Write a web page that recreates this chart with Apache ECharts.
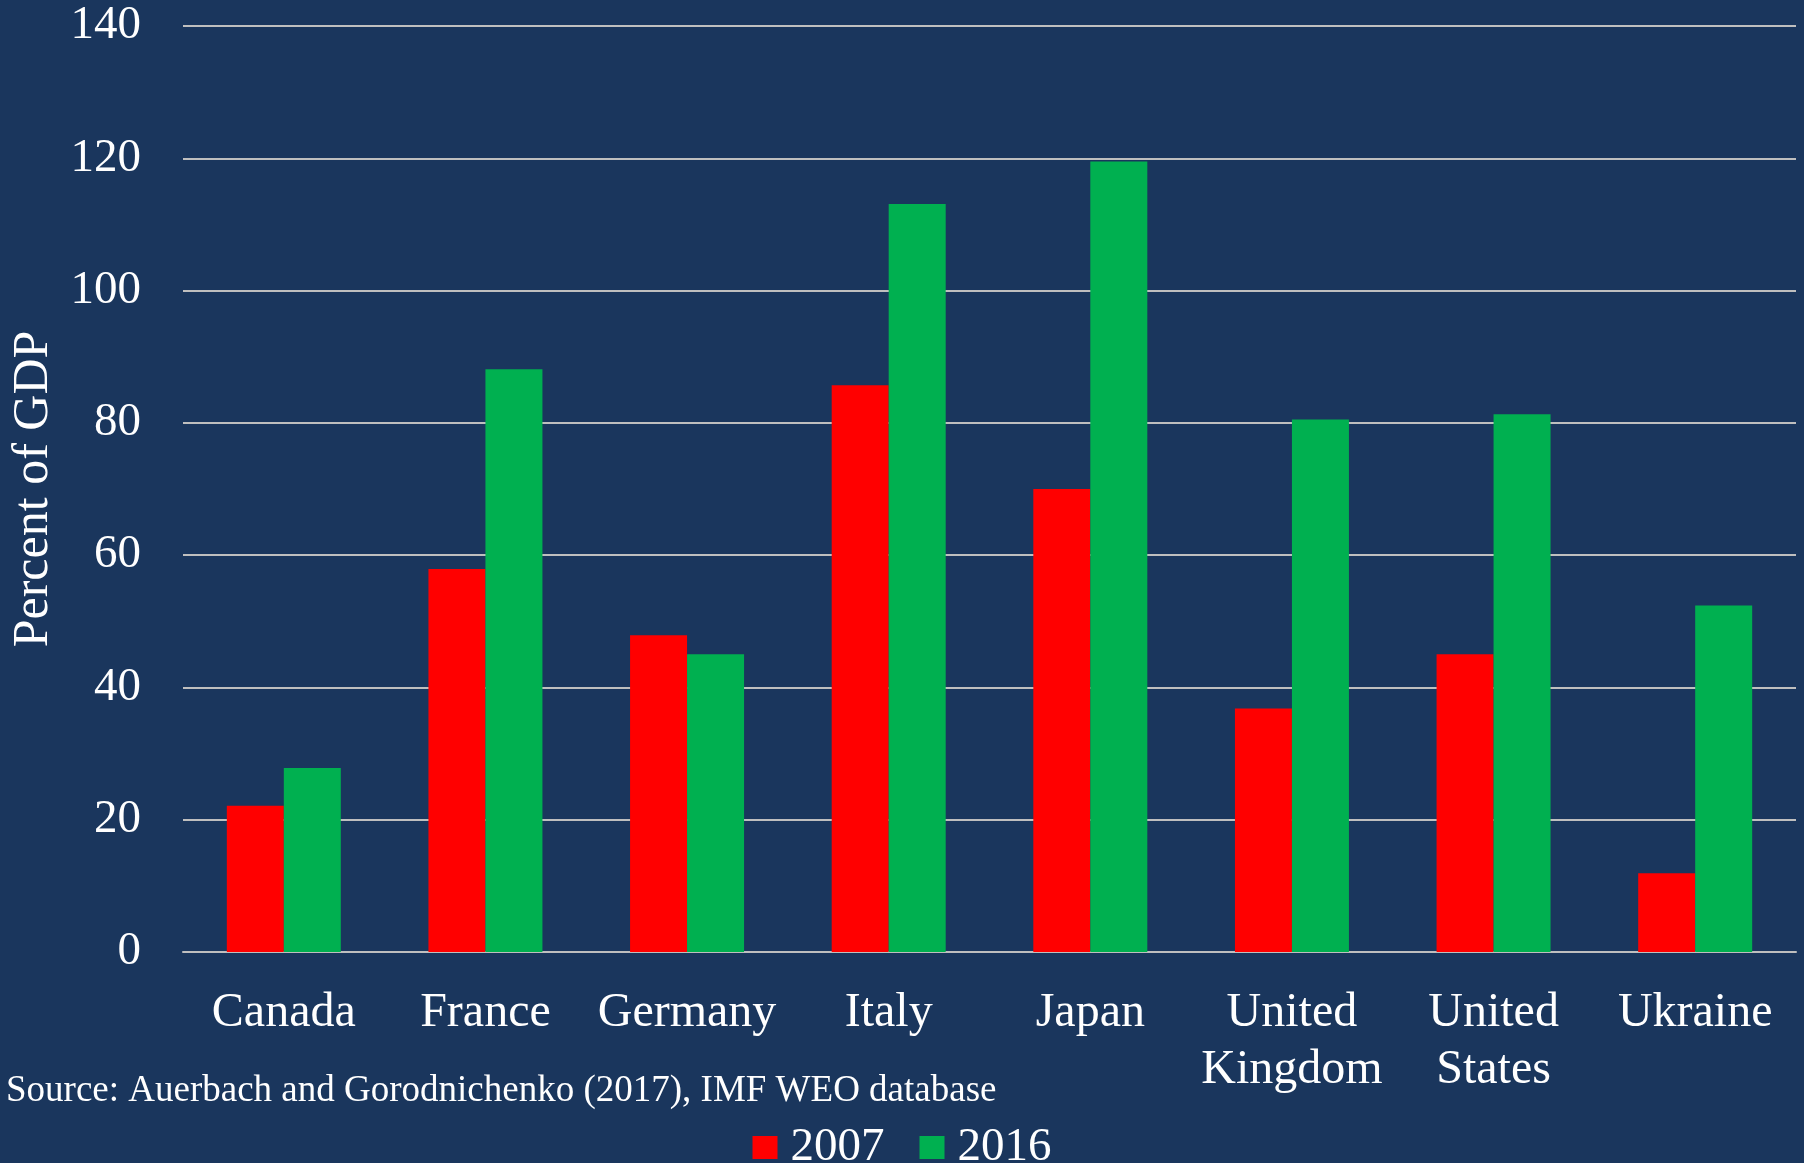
<!DOCTYPE html>
<html>
<head>
<meta charset="utf-8">
<script src="https://cdn.jsdelivr.net/npm/echarts@6/dist/echarts.min.js"></script>
<style>
  html, body { margin: 0; padding: 0; background: #1A365D; }
  #chart { width: 1804px; height: 1163px; }
</style>
</head>
<body>
<div id="chart"></div>
<script>
// categories and values (percent of GDP)
const countries = ['Canada', 'France', 'Germany', 'Italy', 'Japan', 'United\nKingdom', 'United\nStates', 'Ukraine'];
const debt2007 = [22.1, 57.9, 47.9, 85.7, 70.0, 36.8, 45.0, 11.9];
const debt2016 = [27.8, 88.1, 45.0, 113.1, 119.5, 80.5, 81.3, 52.4];
const yTicks = [0, 140, 20]; // min, max, step

const serif = '"Liberation Serif", "Times New Roman", serif';

const chart = echarts.init(document.getElementById('chart'));

const option = {
    backgroundColor: '#1A365D',
    animation: false,
    textStyle: { fontFamily: serif, color: '#fff' },
    grid: { left: 183, right: 8, top: 26, bottom: 211, containLabel: false, outerBoundsMode: 'none' },
    legend: {
        bottom: -13,
        left: 'center',
        itemWidth: 25,
        itemHeight: 23,
        itemGap: 35,
        icon: 'rect',
        textStyle: { fontFamily: serif, fontSize: 47, color: '#fff', padding: [0, 0, 0, 8] },
        data: ['2007', '2016']
    },
    graphic: [{
        type: 'text',
        left: 6,
        top: 1073,
        style: {
            text: 'Source: Auerbach and Gorodnichenko (2017), IMF WEO database',
            font: '37px ' + serif,
            fill: '#fff'
        }
    }],
    xAxis: {
        type: 'category',
        data: countries,
        axisLine: { show: true, lineStyle: { color: '#BFBFBF', width: 2 } },
        axisTick: { show: false },
        axisLabel: {
            color: '#fff',
            fontFamily: serif,
            fontSize: 48,
            lineHeight: 57,
            margin: 33,
            interval: 0
        }
    },
    yAxis: {
        type: 'value',
        min: yTicks[0],
        max: yTicks[1],
        interval: yTicks[2],
        name: 'Percent of GDP',
        nameLocation: 'middle',
        nameGap: 124,
        nameTextStyle: { color: '#fff', fontFamily: serif, fontSize: 50 },
        axisLine: { show: false },
        axisTick: { show: false },
        axisLabel: { color: '#fff', fontFamily: serif, fontSize: 47, margin: 42 },
        splitLine: { lineStyle: { color: '#BFBFBF', width: 2 } }
    },
    series: [
        {
            name: '2007',
            type: 'bar',
            data: debt2007,
            barWidth: 57,
            barGap: '0%',
            itemStyle: { color: '#FF0000' }
        },
        {
            name: '2016',
            type: 'bar',
            data: debt2016,
            barWidth: 57,
            barGap: '0%',
            itemStyle: { color: '#00B050' }
        }
    ]
};

chart.setOption(option);

window.addEventListener('resize', function () {
    chart.resize();
});
</script>
</body>
</html>
